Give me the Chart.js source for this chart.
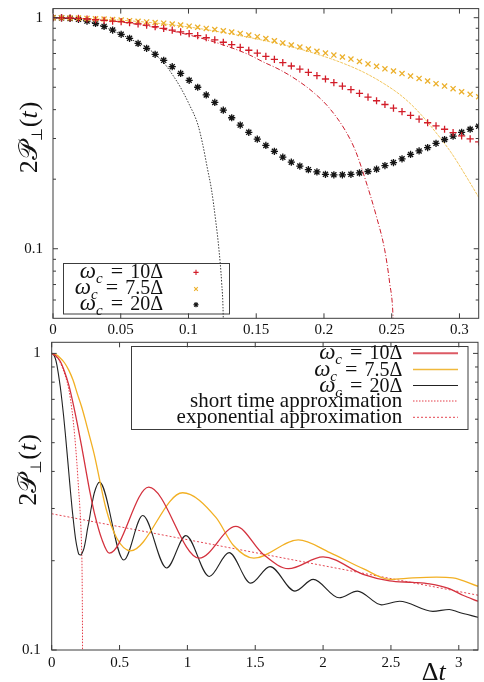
<!DOCTYPE html>
<html><head><meta charset="utf-8">
<script src="https://cdn.jsdelivr.net/npm/chart.js@4/dist/chart.umd.min.js"></script>
<style>
html,body{margin:0;padding:0;background:#fff;}
#wrap{position:relative;width:484px;height:682px;overflow:hidden;background:#fff;}
canvas{position:absolute;left:0;}
#c1{top:0;width:484px;height:342px;}
#c2{top:336px;width:484px;height:346px;}
</style></head><body>
<div id="wrap"><canvas id="c1" width="484" height="342"></canvas><canvas id="c2" width="484" height="346"></canvas></div>
<script>
// ---------- TOP PANEL DATA ----------
const topX = [0,0.0063,0.0126,0.0188,0.0251,0.0314,0.0377,0.0440,0.0503,0.0565,0.0628,0.0691,0.0754,0.0817,0.0880,0.0942,0.1005,0.1068,0.1131,0.1194,0.1257,0.1319,0.1382,0.1445,0.1508,0.1571,0.1634,0.1696,0.1759,0.1822,0.1885,0.1948,0.2011,0.2073,0.2136,0.2199,0.2262,0.2325,0.2388,0.2450,0.2513,0.2576,0.2639,0.2702,0.2765,0.2827,0.2890,0.2953,0.3016,0.3079,0.3142];
const topRed = [1.000,0.999,0.997,0.993,0.987,0.980,0.974,0.967,0.961,0.952,0.941,0.928,0.914,0.899,0.884,0.869,0.853,0.836,0.819,0.801,0.783,0.764,0.744,0.723,0.702,0.680,0.660,0.639,0.618,0.599,0.580,0.561,0.543,0.524,0.506,0.488,0.470,0.453,0.437,0.421,0.406,0.392,0.378,0.364,0.351,0.340,0.329,0.318,0.308,0.299,0.290];
const topYellow = [1.000,1.000,0.998,0.996,0.993,0.990,0.987,0.982,0.977,0.971,0.965,0.959,0.953,0.947,0.939,0.930,0.919,0.909,0.899,0.889,0.878,0.867,0.855,0.842,0.828,0.813,0.795,0.778,0.762,0.747,0.732,0.716,0.703,0.689,0.676,0.662,0.647,0.631,0.616,0.601,0.588,0.573,0.559,0.546,0.532,0.518,0.506,0.493,0.478,0.466,0.455];
const topBlack = [1.000,0.998,0.993,0.984,0.967,0.945,0.917,0.884,0.847,0.814,0.774,0.737,0.694,0.654,0.614,0.574,0.536,0.500,0.463,0.430,0.398,0.369,0.343,0.319,0.298,0.280,0.264,0.249,0.237,0.228,0.220,0.215,0.210,0.209,0.209,0.210,0.213,0.216,0.221,0.229,0.236,0.245,0.256,0.265,0.274,0.286,0.297,0.307,0.319,0.329,0.339];
// short time approximations (top panel)
const stBlackX = [0,0.0251,0.0503,0.0565,0.0692,0.0756,0.0817,0.0880,0.0942,0.1005,0.1069,0.1105,0.1140,0.1170,0.1201,0.1225,0.1245,0.1256,0.1262];
const stBlackY = [1.0,0.967,0.847,0.812,0.742,0.694,0.639,0.569,0.498,0.422,0.345,0.283,0.222,0.180,0.132,0.099,0.071,0.052,0.030];
const stRedX = [0,0.025,0.05,0.075,0.1,0.125,0.145,0.1548,0.167,0.1793,0.1915,0.2037,0.216,0.2233,0.2301,0.2387,0.2448,0.2485,0.2509,0.2522];
const stRedY = [1.0,0.987,0.958,0.908,0.843,0.765,0.690,0.645,0.597,0.541,0.479,0.408,0.323,0.265,0.203,0.138,0.099,0.071,0.052,0.030];
const stYelX = [0,0.05,0.1,0.15,0.181,0.2,0.215,0.23,0.245,0.258,0.27,0.282,0.294,0.304,0.3142];
const stYelY = [1.0,0.976,0.912,0.810,0.735,0.680,0.632,0.578,0.515,0.455,0.390,0.322,0.260,0.210,0.167];
const topXTicks = [0,0.05,0.1,0.15,0.2,0.25,0.3];
const topXLabels = ['0','0.05','0.1','0.15','0.2','0.25','0.3'];
const topYMajor = [0.1,1];
const topYLabels = ['0.1','1'];
const topYMinor = [0.06,0.07,0.08,0.09,0.2,0.3,0.4,0.5,0.6,0.7,0.8,0.9];
const topLegend = ['10Δ','7.5Δ','20Δ'];

// ---------- BOTTOM PANEL DATA ----------
const botRedX = [0,0.0314,0.0628,0.0942,0.1257,0.1571,0.1885,0.2199,0.2513,0.2827,0.3142,0.37,0.425,0.715,1.087,1.357,1.56,1.744,2.0,2.295,2.49,2.662,2.785,2.93,3.03,3.1416];
const botRedY = [1.0,0.980,0.941,0.869,0.783,0.680,0.580,0.488,0.406,0.339,0.290,0.236,0.212,0.354,0.204,0.261,0.210,0.188,0.206,0.180,0.171,0.169,0.167,0.161,0.153,0.146];
const botYelX = [0,0.0314,0.0628,0.0942,0.1257,0.1571,0.1885,0.2199,0.2513,0.2827,0.3142,0.40,0.48,0.58,0.965,1.21,1.34,1.49,1.817,2.05,2.295,2.49,2.662,2.835,2.956,3.1416];
const botYelY = [1.0,0.990,0.965,0.930,0.878,0.813,0.732,0.662,0.588,0.518,0.455,0.300,0.238,0.216,0.339,0.280,0.225,0.204,0.235,0.213,0.188,0.173,0.175,0.176,0.175,0.164];
const botBlkX = [0,0.0126,0.0251,0.0377,0.0503,0.0628,0.0754,0.088,0.1005,0.1131,0.1257,0.1382,0.1508,0.1634,0.1759,0.1885,0.2011,0.2136,0.2262,0.2388,0.2513,0.2639,0.2765,0.289,0.3016,0.3142,0.352,0.531,0.671,0.847,0.989,1.161,1.307,1.467,1.609,1.793,1.927,2.118,2.253,2.43,2.564,2.809,2.93,3.0,3.1416];
const botBlkY = [1.0,0.993,0.967,0.917,0.847,0.774,0.694,0.614,0.536,0.463,0.398,0.343,0.298,0.264,0.237,0.220,0.210,0.209,0.213,0.221,0.236,0.256,0.274,0.297,0.319,0.339,0.368,0.201,0.284,0.189,0.243,0.177,0.213,0.168,0.191,0.158,0.173,0.150,0.158,0.142,0.146,0.135,0.137,0.134,0.129];
const botShortX = [0,0.05,0.1,0.125,0.15,0.169,0.185,0.198,0.208,0.215,0.22,0.2235,0.2255,0.227,0.228];
const botShortY = [1.0,0.955,0.84,0.76,0.64,0.53,0.43,0.35,0.30,0.26,0.225,0.19,0.15,0.11,0.06];
const botExpX = [0,3.1416];
const botExpY = [0.288,0.153];
const botXTicks = [0,0.5,1,1.5,2,2.5,3];
const botXLabels = ['0','0.5','1','1.5','2','2.5','3'];
const botYMajor = [0.1,1];
const botYLabels = ['0.1','1'];
const botYMinor = [0.2,0.3,0.4,0.5,0.6,0.7,0.8,0.9];
const botLegendText = ['short time approximation','exponential approximation'];

// ---------- STYLE ----------
const SERIF = '"Liberation Serif","DejaVu Serif",serif';
const RED = 'rgb(210,28,40)', YEL = 'rgb(236,176,44)', BLK = '#141414';
const LRED = 'rgb(212,50,62)', LYEL = 'rgb(242,176,36)', LBLK = '#222';
const FRAME = '#3c3c3c';
const pts = (xs, ys) => xs.map((x, i) => ({x: x, y: ys[i]}));

function drawRich(ctx, parts, x, y, align) {
  let w = 0;
  parts.forEach(p => { ctx.font = p.f; p.w = ctx.measureText(p.t).width + (p.pre || 0) + (p.post || 0); w += p.w; });
  let cx = align === 'right' ? x - w : (align === 'center' ? x - w / 2 : x);
  ctx.textAlign = 'left'; ctx.textBaseline = 'alphabetic';
  parts.forEach(p => { ctx.font = p.f; ctx.fillText(p.t, cx + (p.pre || 0), y + (p.dy || 0)); cx += p.w; });
}
function omegaParts(val) {
  return [
    {t: 'ω', f: 'italic 23px ' + SERIF},
    {t: 'c', f: 'italic 15px ' + SERIF, dy: 5, post: 8},
    {t: '=', f: '22px ' + SERIF, post: 7},
    {t: val, f: '20px ' + SERIF}
  ];
}
function yLabelParts() {
  return [
    {t: '2', f: '26px ' + SERIF},
    {t: '𝒫', f: '26px ' + SERIF},
    {t: '⊥', f: '15px "DejaVu Sans"', dy: 5, post: 1},
    {t: '(', f: '26px ' + SERIF},
    {t: 't', f: 'italic 26px ' + SERIF, post: 1},
    {t: ')', f: '26px ' + SERIF}
  ];
}
function mark(ctx, style, x, y, r, color, lw) {
  ctx.save(); ctx.strokeStyle = color; ctx.lineWidth = lw; ctx.beginPath();
  if (style === 'cross' || style === 'star') { ctx.moveTo(x - r, y); ctx.lineTo(x + r, y); ctx.moveTo(x, y - r); ctx.lineTo(x, y + r); }
  if (style === 'crossRot' || style === 'star') { const d = r * 0.7071; ctx.moveTo(x - d, y - d); ctx.lineTo(x + d, y + d); ctx.moveTo(x - d, y + d); ctx.lineTo(x + d, y - d); }
  ctx.stroke(); ctx.restore();
}
function framePlugin(id, xTicks, yMajor, yMinor, extra) {
  return {
    id: id,
    afterDatasetsDraw(chart) {
      const ctx = chart.ctx, a = chart.chartArea, xs = chart.scales.x, ys = chart.scales.y;
      ctx.save();
      ctx.strokeStyle = FRAME; ctx.lineWidth = 1;
      ctx.beginPath();
      xTicks.forEach(v => { const p = xs.getPixelForValue(v); ctx.moveTo(p, a.bottom); ctx.lineTo(p, a.bottom - 5); ctx.moveTo(p, a.top); ctx.lineTo(p, a.top + 5); });
      yMajor.forEach(v => { const p = ys.getPixelForValue(v); ctx.moveTo(a.left, p); ctx.lineTo(a.left + 5, p); ctx.moveTo(a.right, p); ctx.lineTo(a.right - 5, p); });
      yMinor.forEach(v => { const p = ys.getPixelForValue(v); ctx.moveTo(a.left, p); ctx.lineTo(a.left + 3, p); ctx.moveTo(a.right, p); ctx.lineTo(a.right - 3, p); });
      ctx.stroke();
      ctx.strokeRect(a.left, a.top, a.right - a.left, a.bottom - a.top);
      ctx.fillStyle = '#111';
      if (extra) extra(ctx, chart);
      ctx.restore();
    }
  };
}
function axes(xMax, xTicks, xLabels, yMin, yMax, yTicks, yLabels, xH, yW, xPad, yPad) {
  const tickFont = {family: SERIF, size: 15};
  return {
    x: {type: 'linear', min: 0, max: xMax,
      grid: {display: false, drawTicks: false}, border: {display: false},
      ticks: {font: tickFont, color: '#111', padding: xPad, maxRotation: 0, autoSkip: false,
        callback: (v, i) => xLabels[i]},
      afterBuildTicks: s => { s.ticks = xTicks.map(v => ({value: v})); },
      afterFit: s => { s.height = xH; s.paddingLeft = 0; s.paddingRight = 0; s.paddingTop = 0; s.paddingBottom = 0; }},
    y: {type: 'logarithmic', min: yMin, max: yMax,
      grid: {display: false, drawTicks: false}, border: {display: false},
      ticks: {font: tickFont, color: '#111', padding: yPad, autoSkip: false,
        callback: (v, i) => yLabels[i]},
      afterBuildTicks: s => { s.ticks = yTicks.map(v => ({value: v})); },
      afterFit: s => { s.width = yW; s.paddingTop = 0; s.paddingBottom = 0; s.paddingLeft = 0; s.paddingRight = 0; }}
  };
}
const common = {responsive: false, animation: false, events: [],
  plugins: {legend: {display: false}, tooltip: {enabled: false}}};

// ---------- TOP CHART ----------
new Chart(document.getElementById('c1'), {
  type: 'scatter',
  data: {datasets: [
    {data: pts(topX, topRed), pointStyle: 'cross', pointRadius: 3.6, borderColor: RED, borderWidth: 1.3, showLine: false, order: 1},
    {data: pts(topX, topYellow), pointStyle: 'crossRot', pointRadius: 3.6, borderColor: YEL, borderWidth: 1.3, showLine: false, order: 1},
    {data: pts(topX, topBlack), pointStyle: 'rect', pointRadius: 3.6, backgroundColor: 'rgba(0,0,0,0.10)', borderWidth: 0, showLine: false, order: 2},
    {data: pts(topX, topBlack), pointStyle: 'star', pointRadius: 3.6, borderColor: BLK, borderWidth: 1.3, showLine: false, order: 1},
    {data: pts(stBlackX, stBlackY), showLine: true, pointRadius: 0, borderColor: '#3a3a3a', borderWidth: 1, borderDash: [1.5, 1.5], cubicInterpolationMode: 'monotone', order: 3},
    {data: pts(stRedX, stRedY), showLine: true, pointRadius: 0, borderColor: 'rgb(205,30,45)', borderWidth: 1, borderDash: [5, 2, 1, 2], cubicInterpolationMode: 'monotone', order: 3},
    {data: pts(stYelX, stYelY), showLine: true, pointRadius: 0, borderColor: 'rgb(242,198,95)', borderWidth: 1, borderDash: [3, 1], cubicInterpolationMode: 'monotone', order: 3}
  ]},
  options: Object.assign({}, common, {
    layout: {padding: {top: 8.6, right: 2, left: 0, bottom: 0}},
    scales: axes(0.3142, topXTicks, topXLabels, 0.05, 1.095, topYMajor, topYLabels, 23.7, 53, 3, 10)
  }),
  plugins: [framePlugin('frameTop', topXTicks, topYMajor, topYMinor, (ctx, chart) => {
    // legend box
    ctx.strokeStyle = FRAME; ctx.lineWidth = 1;
    ctx.strokeRect(63.5, 263.5, 166, 50.5);
    const base = [277.7, 294.3, 310];
    const styles = [['cross', RED], ['crossRot', YEL], ['star', BLK]];
    topLegend.forEach((v, i) => {
      ctx.fillStyle = '#111';
      drawRich(ctx, omegaParts(v), 163, base[i], 'right');
      mark(ctx, styles[i][0], 196, base[i] - 5.3, 2.6, styles[i][1], 1.1);
    });
    // y axis label
    ctx.save(); ctx.fillStyle = '#111';
    ctx.translate(37, 137.5); ctx.rotate(-Math.PI / 2);
    drawRich(ctx, yLabelParts(), 0, 0, 'center');
    ctx.restore();
  })]
});

// ---------- BOTTOM CHART ----------
new Chart(document.getElementById('c2'), {
  type: 'scatter',
  data: {datasets: [
    {data: pts(botRedX, botRedY), showLine: true, pointRadius: 0, borderColor: LRED, borderWidth: 1.3, cubicInterpolationMode: 'monotone'},
    {data: pts(botYelX, botYelY), showLine: true, pointRadius: 0, borderColor: LYEL, borderWidth: 1.3, cubicInterpolationMode: 'monotone'},
    {data: pts(botBlkX, botBlkY), showLine: true, pointRadius: 0, borderColor: LBLK, borderWidth: 1.1, cubicInterpolationMode: 'monotone'},
    {data: pts(botShortX, botShortY), showLine: true, pointRadius: 0, borderColor: 'rgb(228,60,72)', borderWidth: 1, borderDash: [1.5, 1.5], cubicInterpolationMode: 'monotone'},
    {data: pts(botExpX, botExpY), showLine: true, pointRadius: 0, borderColor: 'rgb(228,70,82)', borderWidth: 1, borderDash: [2, 2]}
  ]},
  options: Object.assign({}, common, {
    layout: {padding: {top: 6.3, right: 6, left: 0, bottom: 0}},
    scales: axes(3.1416, botXTicks, botXLabels, 0.1, 1.09, botYMajor, botYLabels, 32, 51.7, 4.5, 11)
  }),
  plugins: [framePlugin('frameBot', botXTicks, botYMajor, botYMinor, (ctx, chart) => {
    const off = 336;
    ctx.strokeStyle = FRAME; ctx.lineWidth = 1;
    ctx.strokeRect(131.5, 346.5 - off, 336.5, 83);
    const base = [359.3, 375.5, 391.5, 407, 423.3].map(v => v - off);
    const samples = [
      {c: 'rgb(220,90,100)', w: 2, d: []},
      {c: 'rgb(240,185,60)', w: 1.3, d: []},
      {c: '#222', w: 1.1, d: []},
      {c: 'rgb(228,60,72)', w: 1, d: [1.5, 1.5]},
      {c: 'rgb(228,70,82)', w: 1, d: [2, 2]}
    ];
    const vals = ['10Δ', '7.5Δ', '20Δ'];
    ctx.fillStyle = '#111';
    vals.forEach((v, i) => drawRich(ctx, omegaParts(v), 402.3, base[i], 'right'));
    botLegendText.forEach((t, i) => drawRich(ctx, [{t: t, f: '21px ' + SERIF}], 402.3, base[3 + i], 'right'));
    samples.forEach((s, i) => {
      ctx.save(); ctx.strokeStyle = s.c; ctx.lineWidth = s.w; ctx.setLineDash(s.d);
      ctx.beginPath(); ctx.moveTo(413, base[i] - 6); ctx.lineTo(458, base[i] - 6); ctx.stroke(); ctx.restore();
    });
    // y label
    ctx.save(); ctx.fillStyle = '#111';
    ctx.translate(36, 470 - off); ctx.rotate(-Math.PI / 2);
    drawRich(ctx, yLabelParts(), 0, 0, 'center');
    ctx.restore();
    // x label
    ctx.fillStyle = '#111';
    drawRich(ctx, [{t: 'Δ', f: '26px ' + SERIF}, {t: 't', f: 'italic 26px ' + SERIF}], 421.7, 343.5, 'left');
  })]
});
</script>
</body></html>
